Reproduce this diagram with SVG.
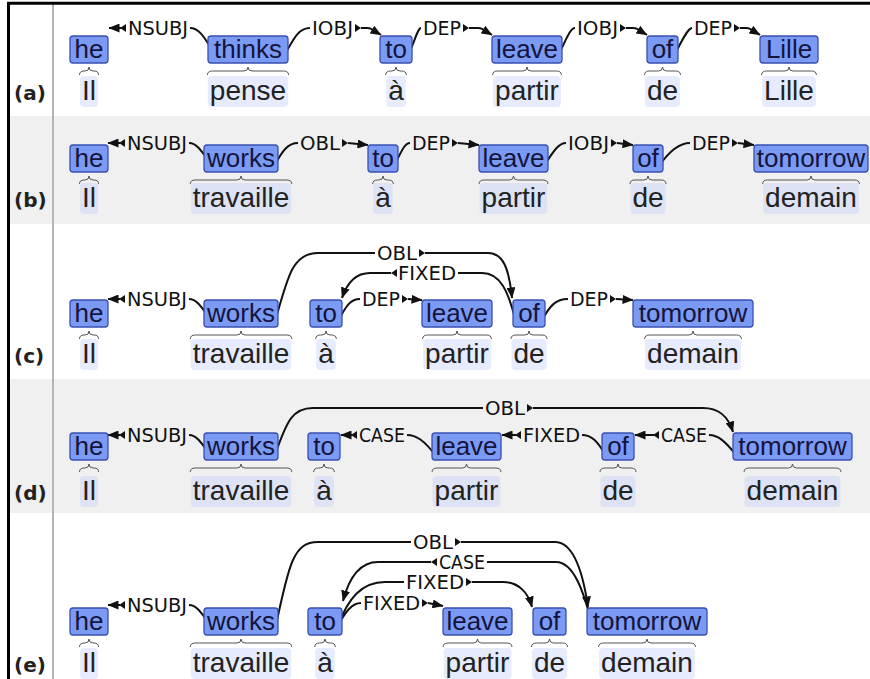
<svg xmlns="http://www.w3.org/2000/svg" width="870" height="679" viewBox="0 0 870 679">
<style>
.box{fill:#7b9af4;stroke:#3a4fb0;stroke-width:1.3}
.bt{font-family:"Liberation Sans",Arial,sans-serif;font-size:26px;fill:#14143c;text-anchor:middle}
.fr{font-family:"Liberation Sans",Arial,sans-serif;font-size:28px;fill:#222;text-anchor:middle}
.hl{fill:#bccdfa;fill-opacity:0.38}
.br{fill:none;stroke:#555;stroke-width:1}
.lbl{font-family:"DejaVu Sans",Verdana,sans-serif;font-size:20px;fill:#111}
.arc{fill:none;stroke:#111;stroke-width:2}
.arr{fill:none;stroke:#111;stroke-width:2;marker-end:url(#ah)}
.tri{fill:#111}
.rl{font-family:"DejaVu Sans",Verdana,sans-serif;font-size:20px;font-weight:bold;fill:#222}
</style>
<defs>
<marker id="ah" markerUnits="userSpaceOnUse" viewBox="0 0 11 9" markerWidth="11" markerHeight="9" refX="10.5" refY="4.5" orient="auto"><path d="M0,0 L11,4.5 L0,9 z" fill="#111"/></marker>
<path id="tr" class="tri" d="M0,-4 L6,0 L0,4 z"/>
<path id="tl" class="tri" d="M0,-4 L-6,0 L0,4 z"/>
<path id="brIl" class="br" d="M-9.5,12 Q-9.5,8 -5,8 L-4,8 Q0,8 0,4 Q0,8 4,8 L5,8 Q9.5,8 9.5,12"/>
<path id="brA" class="br" d="M-10.3,12 Q-10.3,8 -5.5,8 L-4,8 Q0,8 0,4 Q0,8 4,8 L5.5,8 Q10.3,8 10.3,12"/>
<path id="brDe" class="br" d="M-18,12 Q-18,8 -13,8 L-4,8 Q0,8 0,4 Q0,8 4,8 L13,8 Q18,8 18,12"/>
<path id="brPartir" class="br" d="M-34.4,12 Q-34.4,8 -29.4,8 L-4,8 Q0,8 0,4 Q0,8 4,8 L29.4,8 Q34.4,8 34.4,12"/>
<path id="brPense" class="br" d="M-40.6,12 Q-40.6,8 -35.6,8 L-4,8 Q0,8 0,4 Q0,8 4,8 L35.6,8 Q40.6,8 40.6,12"/>
<path id="brLille" class="br" d="M-27.4,12 Q-27.4,8 -22.4,8 L-4,8 Q0,8 0,4 Q0,8 4,8 L22.4,8 Q27.4,8 27.4,12"/>
<path id="brTrav" class="br" d="M-50.75,12 Q-50.75,8 -45.75,8 L-4,8 Q0,8 0,4 Q0,8 4,8 L45.75,8 Q50.75,8 50.75,12"/>
<path id="brDemain" class="br" d="M-48.4,12 Q-48.4,8 -43.4,8 L-4,8 Q0,8 0,4 Q0,8 4,8 L43.4,8 Q48.4,8 48.4,12"/>
<rect id="hlIl" class="hl" x="-9" y="-24" width="18" height="31" rx="4"/>
<rect id="hlA" class="hl" x="-9.8" y="-24" width="19.6" height="31" rx="4"/>
<rect id="hlDe" class="hl" x="-17.55" y="-24" width="35.1" height="31" rx="4"/>
<rect id="hlPartir" class="hl" x="-33.9" y="-24" width="67.8" height="31" rx="4"/>
<rect id="hlPense" class="hl" x="-40.15" y="-24" width="80.3" height="31" rx="4"/>
<rect id="hlLille" class="hl" x="-26.9" y="-24" width="53.8" height="31" rx="4"/>
<rect id="hlTrav" class="hl" x="-50.25" y="-24" width="100.5" height="31" rx="4"/>
<rect id="hlDemain" class="hl" x="-47.9" y="-24" width="95.8" height="31" rx="4"/>
</defs>

<g id="background">
<rect x="0" y="0" width="870" height="679" fill="#ffffff"/>
<rect x="9" y="116" width="861" height="108" fill="#f0f0f0"/>
<rect x="9" y="379" width="861" height="134" fill="#f0f0f0"/>
<line x1="53" y1="4" x2="53" y2="679" stroke="#b4b4b4" stroke-width="2"/>
<line x1="7" y1="3.3" x2="870" y2="3.3" stroke="#000" stroke-width="3"/>
<line x1="8.5" y1="2" x2="8.5" y2="679" stroke="#000" stroke-width="3"/>
</g>

<g id="row-labels">
<text class="rl" x="14" y="100">(a)</text>
<text class="rl" x="14" y="207">(b)</text>
<text class="rl" x="14" y="363">(c)</text>
<text class="rl" x="14" y="500">(d)</text>
<text class="rl" x="14" y="672">(e)</text>
</g>

<g id="connectors">
<!-- row a -->
<path class="arc" d="M190,28 C198,28 203,35 211,48"/>
<path class="arr" d="M121,28 L109,28"/>
<use href="#tl" x="126" y="28"/>
<text class="lbl" x="128" y="35" textLength="60" lengthAdjust="spacingAndGlyphs">NSUBJ</text>

<path class="arc" d="M284,56 C293,40 298,28 310,28"/>
<text class="lbl" x="312" y="35" textLength="41" lengthAdjust="spacingAndGlyphs">IOBJ</text>
<use href="#tr" x="355" y="28"/>
<path class="arr" d="M361,28 L367,28 C373,28 376,32 381,35"/>

<path class="arc" d="M408,56 C415,40 418,28 421,28"/>
<text class="lbl" x="423" y="35" textLength="38" lengthAdjust="spacingAndGlyphs">DEP</text>
<use href="#tr" x="463" y="28"/>
<path class="arr" d="M469,28 L478,28 C484,28 487,32 492,35"/>

<path class="arc" d="M558,56 C566,40 570,28 575,28"/>
<text class="lbl" x="577" y="35" textLength="41" lengthAdjust="spacingAndGlyphs">IOBJ</text>
<use href="#tr" x="620" y="28"/>
<path class="arr" d="M626,28 L633,28 C639,28 642,32 647,35"/>

<path class="arc" d="M674,56 C682,40 688,28 692,28"/>
<text class="lbl" x="694" y="35" textLength="38" lengthAdjust="spacingAndGlyphs">DEP</text>
<use href="#tr" x="734" y="28"/>
<path class="arr" d="M740,28 L746,28 C752,28 755,32 760,35"/>

<!-- row b -->
<path class="arc" d="M189,143 C196,143 201,150 208,160"/>
<path class="arr" d="M120,143 L108,143"/>
<use href="#tl" x="125" y="143"/>
<text class="lbl" x="127" y="150" textLength="60" lengthAdjust="spacingAndGlyphs">NSUBJ</text>

<path class="arc" d="M274,166 C283,150 288,143 298,143"/>
<text class="lbl" x="300" y="150" textLength="40" lengthAdjust="spacingAndGlyphs">OBL</text>
<use href="#tr" x="342" y="143"/>
<path class="arr" d="M348,143 L368,145"/>

<path class="arc" d="M394,166 C402,150 405,143 410,143"/>
<text class="lbl" x="412" y="150" textLength="38" lengthAdjust="spacingAndGlyphs">DEP</text>
<use href="#tr" x="452" y="143"/>
<path class="arr" d="M458,143 L479,145"/>

<path class="arc" d="M544,166 C554,150 559,143 566,143"/>
<text class="lbl" x="568" y="150" textLength="41" lengthAdjust="spacingAndGlyphs">IOBJ</text>
<use href="#tr" x="611" y="143"/>
<path class="arr" d="M617,143 L633,145"/>

<path class="arc" d="M659,166 C670,150 680,143 690,143"/>
<text class="lbl" x="692" y="150" textLength="38" lengthAdjust="spacingAndGlyphs">DEP</text>
<use href="#tr" x="732" y="143"/>
<path class="arr" d="M738,143 L754,145"/>

<!-- row c -->
<path class="arc" d="M189,299 C196,299 201,306 208,316"/>
<path class="arr" d="M120,299 L108,299"/>
<use href="#tl" x="125" y="299"/>
<text class="lbl" x="127" y="306" textLength="60" lengthAdjust="spacingAndGlyphs">NSUBJ</text>

<path class="arc" d="M275,322 C288,275 293,253 318,253 L375,253"/>
<text class="lbl" x="377" y="260" textLength="40" lengthAdjust="spacingAndGlyphs">OBL</text>
<use href="#tr" x="419" y="253"/>
<path class="arr" d="M425,253 L488,253 C503,253 509,268 512,298"/>

<path class="arc" d="M516,322 C508,290 500,273 482,273 L458,273"/>
<text class="lbl" x="398" y="280" textLength="58" lengthAdjust="spacingAndGlyphs">FIXED</text>
<use href="#tl" x="397" y="273"/>
<path class="arr" d="M391,273 L370,273 C356,273 347,283 342,298"/>

<path class="arc" d="M338,322 C346,305 351,299 360,299"/>
<text class="lbl" x="362" y="306" textLength="38" lengthAdjust="spacingAndGlyphs">DEP</text>
<use href="#tr" x="402" y="299"/>
<path class="arr" d="M408,299 L422,300"/>

<path class="arc" d="M541,322 C550,305 556,299 568,299"/>
<text class="lbl" x="570" y="306" textLength="38" lengthAdjust="spacingAndGlyphs">DEP</text>
<use href="#tr" x="610" y="299"/>
<path class="arr" d="M616,299 L633,300"/>

<!-- row d -->
<path class="arc" d="M189,435 C196,435 201,442 208,452"/>
<path class="arr" d="M120,435 L108,435"/>
<use href="#tl" x="125" y="435"/>
<text class="lbl" x="127" y="442" textLength="60" lengthAdjust="spacingAndGlyphs">NSUBJ</text>

<path class="arc" d="M275,455 C287,420 293,408 313,408 L483,408"/>
<text class="lbl" x="485" y="415" textLength="40" lengthAdjust="spacingAndGlyphs">OBL</text>
<use href="#tr" x="527" y="408"/>
<path class="arr" d="M533,408 L703,408 C719,408 728,416 733,432"/>

<path class="arc" d="M407,435 C416,435 424,440 436,456"/>
<text class="lbl" x="359" y="442" textLength="46" lengthAdjust="spacingAndGlyphs">CASE</text>
<use href="#tl" x="357" y="435"/>
<path class="arr" d="M352,435 L341,435"/>

<path class="arc" d="M582,435 C591,435 597,440 606,456"/>
<text class="lbl" x="523" y="442" textLength="57" lengthAdjust="spacingAndGlyphs">FIXED</text>
<use href="#tl" x="521" y="435"/>
<path class="arr" d="M516,435 L502,435"/>

<path class="arc" d="M709,435 C718,435 725,441 737,456"/>
<text class="lbl" x="661" y="442" textLength="46" lengthAdjust="spacingAndGlyphs">CASE</text>
<use href="#tl" x="659" y="435"/>
<path class="arr" d="M654,435 L635,435"/>

<!-- row e -->
<path class="arc" d="M189,605 C196,605 201,612 208,622"/>
<path class="arr" d="M120,605 L108,605"/>
<use href="#tl" x="125" y="605"/>
<text class="lbl" x="127" y="612" textLength="60" lengthAdjust="spacingAndGlyphs">NSUBJ</text>

<path class="arc" d="M275,630 C289,562 294,542 318,542 L411,542"/>
<text class="lbl" x="413" y="549" textLength="40" lengthAdjust="spacingAndGlyphs">OBL</text>
<use href="#tr" x="455" y="542"/>
<path class="arr" d="M461,542 L555,542 C572,542 582,566 588,607"/>

<path class="arc" d="M593,628 C584,592 574,562 556,562 L487,562"/>
<text class="lbl" x="439" y="569" textLength="46" lengthAdjust="spacingAndGlyphs">CASE</text>
<use href="#tl" x="437" y="562"/>
<path class="arr" d="M431,562 L378,562 C360,562 349,578 343,601"/>

<path class="arc" d="M338,626 C348,598 362,582 385,582 L404,582"/>
<text class="lbl" x="406" y="589" textLength="58" lengthAdjust="spacingAndGlyphs">FIXED</text>
<use href="#tr" x="466" y="582"/>
<path class="arr" d="M472,582 L503,582 C518,582 528,592 532,607"/>

<path class="arc" d="M337,627 C346,611 352,603 361,603"/>
<text class="lbl" x="363" y="610" textLength="57" lengthAdjust="spacingAndGlyphs">FIXED</text>
<use href="#tr" x="422" y="603"/>
<path class="arr" d="M428,603 L443,606"/>
</g>

<!-- row a nodes -->
<g id="a-he"><rect class="box" x="70" y="36" width="38" height="27" rx="3"/><text class="bt" x="89" y="58">he</text><use href="#brIl" x="89" y="63"/><use href="#hlIl" x="89" y="100"/><text class="fr" x="89" y="100">Il</text></g>
<g id="a-thinks"><rect class="box" x="208" y="36" width="80" height="27" rx="3"/><text class="bt" x="248" y="58">thinks</text><use href="#brPense" x="248" y="63"/><use href="#hlPense" x="248" y="100"/><text class="fr" x="248" y="100">pense</text></g>
<g id="a-to"><rect class="box" x="380" y="36" width="32" height="27" rx="3"/><text class="bt" x="396" y="58">to</text><use href="#brA" x="396" y="63"/><use href="#hlA" x="396" y="100"/><text class="fr" x="396" y="100">à</text></g>
<g id="a-leave"><rect class="box" x="492" y="36" width="70" height="27" rx="3"/><text class="bt" x="527" y="58">leave</text><use href="#brPartir" x="527" y="63"/><use href="#hlPartir" x="527" y="100"/><text class="fr" x="527" y="100">partir</text></g>
<g id="a-of"><rect class="box" x="647" y="36" width="31" height="27" rx="3"/><text class="bt" x="662.5" y="58">of</text><use href="#brDe" x="662.5" y="63"/><use href="#hlDe" x="662.5" y="100"/><text class="fr" x="662.5" y="100">de</text></g>
<g id="a-lille"><rect class="box" x="760" y="36" width="58" height="27" rx="3"/><text class="bt" x="789" y="58">Lille</text><use href="#brLille" x="789" y="63"/><use href="#hlLille" x="789" y="100"/><text class="fr" x="789" y="100">Lille</text></g>

<!-- row b nodes -->
<g id="b-he"><rect class="box" x="70" y="145" width="38" height="27" rx="3"/><text class="bt" x="89" y="167">he</text><use href="#brIl" x="89" y="172"/><use href="#hlIl" x="89" y="207"/><text class="fr" x="89" y="207">Il</text></g>
<g id="b-works"><rect class="box" x="204" y="145" width="74" height="27" rx="3"/><text class="bt" x="241" y="167">works</text><use href="#brTrav" x="241" y="172"/><use href="#hlTrav" x="241" y="207"/><text class="fr" x="241" y="207">travaille</text></g>
<g id="b-to"><rect class="box" x="368" y="145" width="30" height="27" rx="3"/><text class="bt" x="383" y="167">to</text><use href="#brA" x="383" y="172"/><use href="#hlA" x="383" y="207"/><text class="fr" x="383" y="207">à</text></g>
<g id="b-leave"><rect class="box" x="479" y="145" width="69" height="27" rx="3"/><text class="bt" x="513.5" y="167">leave</text><use href="#brPartir" x="513.5" y="172"/><use href="#hlPartir" x="513.5" y="207"/><text class="fr" x="513.5" y="207">partir</text></g>
<g id="b-of"><rect class="box" x="633" y="145" width="30" height="27" rx="3"/><text class="bt" x="648" y="167">of</text><use href="#brDe" x="648" y="172"/><use href="#hlDe" x="648" y="207"/><text class="fr" x="648" y="207">de</text></g>
<g id="b-tomorrow"><rect class="box" x="754" y="145" width="114" height="27" rx="3"/><text class="bt" x="811" y="167">tomorrow</text><use href="#brDemain" x="811" y="172"/><use href="#hlDemain" x="811" y="207"/><text class="fr" x="811" y="207">demain</text></g>

<!-- row c nodes -->
<g id="c-he"><rect class="box" x="70" y="300" width="38" height="27" rx="3"/><text class="bt" x="89" y="322">he</text><use href="#brIl" x="89" y="327"/><use href="#hlIl" x="89" y="363"/><text class="fr" x="89" y="363">Il</text></g>
<g id="c-works"><rect class="box" x="204" y="300" width="74" height="27" rx="3"/><text class="bt" x="241" y="322">works</text><use href="#brTrav" x="241" y="327"/><use href="#hlTrav" x="241" y="363"/><text class="fr" x="241" y="363">travaille</text></g>
<g id="c-to"><rect class="box" x="310" y="300" width="32" height="27" rx="3"/><text class="bt" x="326" y="322">to</text><use href="#brA" x="326" y="327"/><use href="#hlA" x="326" y="363"/><text class="fr" x="326" y="363">à</text></g>
<g id="c-leave"><rect class="box" x="422" y="300" width="70" height="27" rx="3"/><text class="bt" x="457" y="322">leave</text><use href="#brPartir" x="457" y="327"/><use href="#hlPartir" x="457" y="363"/><text class="fr" x="457" y="363">partir</text></g>
<g id="c-of"><rect class="box" x="513" y="300" width="32" height="27" rx="3"/><text class="bt" x="529" y="322">of</text><use href="#brDe" x="529" y="327"/><use href="#hlDe" x="529" y="363"/><text class="fr" x="529" y="363">de</text></g>
<g id="c-tomorrow"><rect class="box" x="633" y="300" width="120" height="27" rx="3"/><text class="bt" x="693" y="322">tomorrow</text><use href="#brDemain" x="693" y="327"/><use href="#hlDemain" x="693" y="363"/><text class="fr" x="693" y="363">demain</text></g>

<!-- row d nodes -->
<g id="d-he"><rect class="box" x="70" y="433" width="38" height="27" rx="3"/><text class="bt" x="89" y="455">he</text><use href="#brIl" x="89" y="460"/><use href="#hlIl" x="89" y="500"/><text class="fr" x="89" y="500">Il</text></g>
<g id="d-works"><rect class="box" x="204" y="433" width="74" height="27" rx="3"/><text class="bt" x="241" y="455">works</text><use href="#brTrav" x="241" y="460"/><use href="#hlTrav" x="241" y="500"/><text class="fr" x="241" y="500">travaille</text></g>
<g id="d-to"><rect class="box" x="308" y="433" width="32" height="27" rx="3"/><text class="bt" x="324" y="455">to</text><use href="#brA" x="324" y="460"/><use href="#hlA" x="324" y="500"/><text class="fr" x="324" y="500">à</text></g>
<g id="d-leave"><rect class="box" x="432" y="433" width="69" height="27" rx="3"/><text class="bt" x="466.5" y="455">leave</text><use href="#brPartir" x="466.5" y="460"/><use href="#hlPartir" x="466.5" y="500"/><text class="fr" x="466.5" y="500">partir</text></g>
<g id="d-of"><rect class="box" x="602" y="433" width="32" height="27" rx="3"/><text class="bt" x="618" y="455">of</text><use href="#brDe" x="618" y="460"/><use href="#hlDe" x="618" y="500"/><text class="fr" x="618" y="500">de</text></g>
<g id="d-tomorrow"><rect class="box" x="733" y="433" width="119" height="27" rx="3"/><text class="bt" x="792.5" y="455">tomorrow</text><use href="#brDemain" x="792.5" y="460"/><use href="#hlDemain" x="792.5" y="500"/><text class="fr" x="792.5" y="500">demain</text></g>

<!-- row e nodes -->
<g id="e-he"><rect class="box" x="70" y="608" width="38" height="27" rx="3"/><text class="bt" x="89" y="630">he</text><use href="#brIl" x="89" y="635"/><use href="#hlIl" x="89" y="672"/><text class="fr" x="89" y="672">Il</text></g>
<g id="e-works"><rect class="box" x="204" y="608" width="74" height="27" rx="3"/><text class="bt" x="241" y="630">works</text><use href="#brTrav" x="241" y="635"/><use href="#hlTrav" x="241" y="672"/><text class="fr" x="241" y="672">travaille</text></g>
<g id="e-to"><rect class="box" x="308" y="608" width="34" height="27" rx="3"/><text class="bt" x="325" y="630">to</text><use href="#brA" x="325" y="635"/><use href="#hlA" x="325" y="672"/><text class="fr" x="325" y="672">à</text></g>
<g id="e-leave"><rect class="box" x="443" y="608" width="69" height="27" rx="3"/><text class="bt" x="477.5" y="630">leave</text><use href="#brPartir" x="477.5" y="635"/><use href="#hlPartir" x="477.5" y="672"/><text class="fr" x="477.5" y="672">partir</text></g>
<g id="e-of"><rect class="box" x="533" y="608" width="33" height="27" rx="3"/><text class="bt" x="549.5" y="630">of</text><use href="#brDe" x="549.5" y="635"/><use href="#hlDe" x="549.5" y="672"/><text class="fr" x="549.5" y="672">de</text></g>
<g id="e-tomorrow"><rect class="box" x="587" y="608" width="120" height="27" rx="3"/><text class="bt" x="647" y="630">tomorrow</text><use href="#brDemain" x="647" y="635"/><use href="#hlDemain" x="647" y="672"/><text class="fr" x="647" y="672">demain</text></g>
</svg>
